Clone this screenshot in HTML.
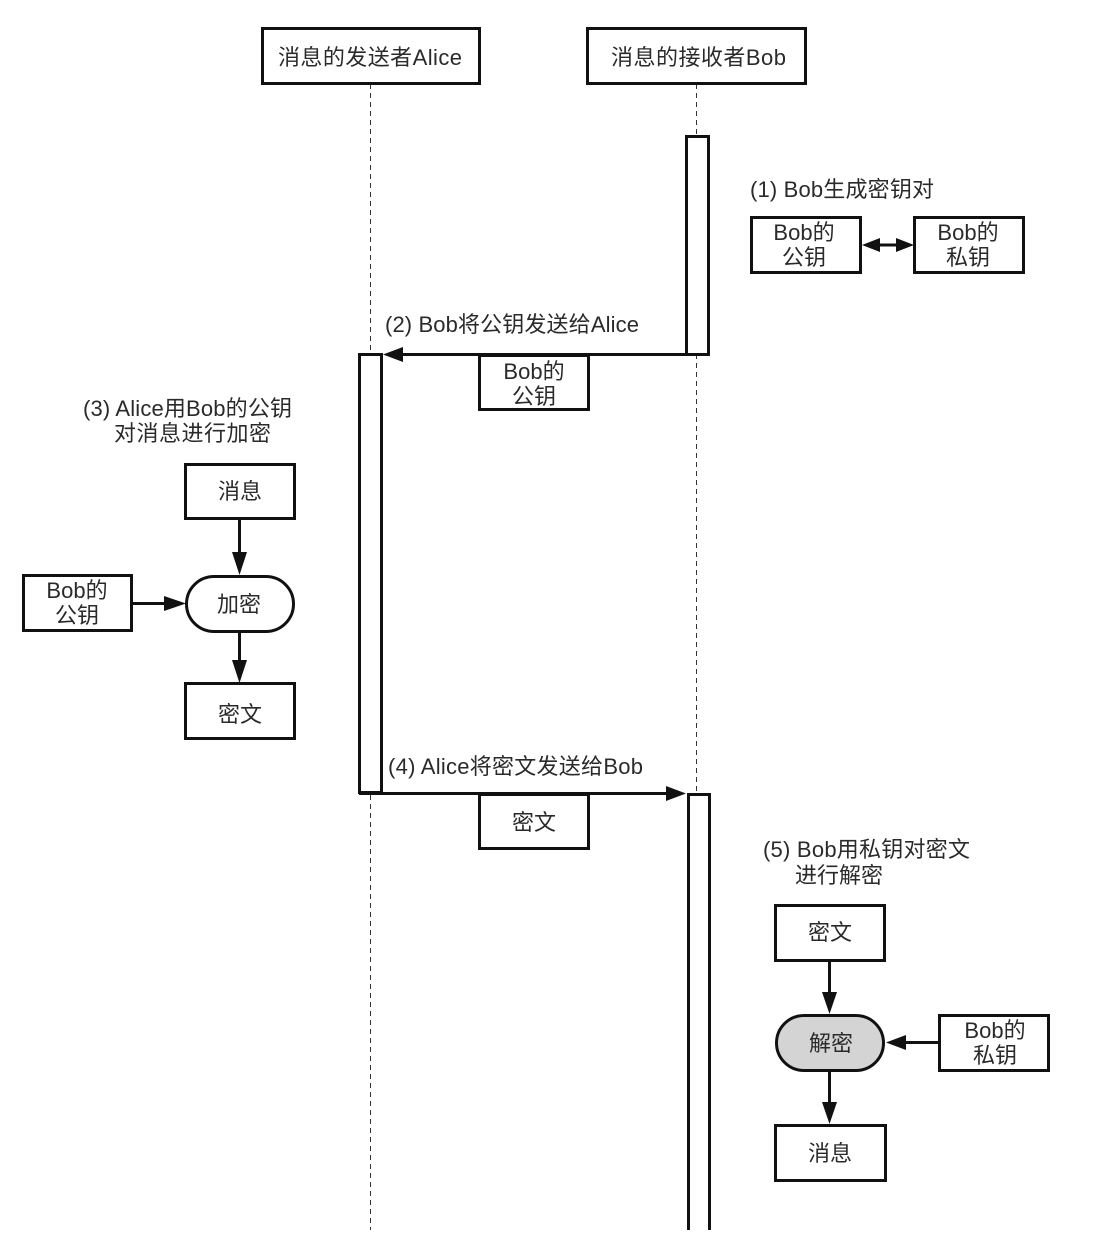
<!DOCTYPE html>
<html><head><meta charset="utf-8"><style>
html,body{margin:0;padding:0;background:#fff;width:1118px;height:1258px;overflow:hidden}
svg{display:block}
text{font-family:"Liberation Sans","Noto Sans CJK SC",sans-serif;font-size:22px;fill:#2a2a2a}
.c{text-anchor:middle}
.b{fill:#fff;stroke:#111;stroke-width:3}
.l{stroke:#111;stroke-width:3;fill:none}
.d{stroke:#333;stroke-width:1;stroke-dasharray:5 4;fill:none}
.a{fill:#111;stroke:none}
</style></head><body>
<svg width="1118" height="1258" viewBox="0 0 1118 1258" xmlns="http://www.w3.org/2000/svg">
<rect width="1118" height="1258" fill="#fff"/>
<path class="d" d="M370.500 84V1230"/>
<path class="d" d="M696.500 84V795"/>
<rect class="b" x="262.500" y="28.500" width="217" height="55"/>
<text x="278" y="65" textLength="184">消息的发送者Alice</text>
<rect class="b" x="587.500" y="28.500" width="218" height="55"/>
<text x="611" y="65" textLength="175">消息的接收者Bob</text>

<rect class="b" x="686.500" y="136.500" width="22" height="218"/>
<text x="750" y="197" textLength="184">(1) Bob生成密钥对</text>
<rect class="b" x="751.500" y="217.500" width="109" height="55"/>
<text class="c" x="804" y="240">Bob的</text><text class="c" x="804" y="265">公钥</text>
<rect class="b" x="914.500" y="217.500" width="109" height="55"/>
<text class="c" x="968" y="240">Bob的</text><text class="c" x="968" y="265">私钥</text>
<path class="l" d="M875 245H900"/>
<path class="a" d="M862 245L880 238V252ZM914 245L896 238V252Z"/>

<text x="385" y="332" textLength="254">(2) Bob将公钥发送给Alice</text>
<rect class="b" x="479.500" y="355.500" width="109" height="54"/>
<text class="c" x="534" y="379">Bob的</text><text class="c" x="534" y="404">公钥</text>
<rect class="b" x="359.500" y="354.500" width="22" height="438"/>
<path class="l" d="M395 354.500H688"/>
<path class="a" d="M383 354.500L403 347V362Z"/>

<text x="83" y="416" textLength="209">(3) Alice用Bob的公钥</text>
<text x="114" y="441" textLength="157">对消息进行加密</text>
<rect class="b" x="185.500" y="464.500" width="109" height="54"/>
<text class="c" x="240" y="499">消息</text>
<path class="l" d="M239.500 519V560"/>
<path class="a" d="M239.500 575L232 552H247Z"/>
<rect class="b" x="23.500" y="575.500" width="108" height="55"/>
<text class="c" x="77" y="598">Bob的</text><text class="c" x="77" y="623">公钥</text>
<path class="l" d="M132 603.500H172"/>
<path class="a" d="M186 603.500L164 596V611Z"/>
<rect class="b" x="186.500" y="576.500" width="107" height="55" rx="27.500" ry="27.500"/>
<text class="c" x="239" y="612">加密</text>
<path class="l" d="M239.500 632V670"/>
<path class="a" d="M239.500 683L232 660H247Z"/>
<rect class="b" x="185.500" y="683.500" width="109" height="55"/>
<text class="c" x="240" y="722">密文</text>

<text x="388" y="774" textLength="255">(4) Alice将密文发送给Bob</text>
<path class="l" d="M359 793.500H675"/>
<path class="a" d="M686 793.500L666 786V801Z"/>
<rect class="b" x="479.500" y="794.500" width="109" height="54"/>
<text class="c" x="534" y="830">密文</text>
<path class="l" d="M688.500 1230V794.500H709.500V1230"/>

<text x="763" y="857" textLength="207">(5) Bob用私钥对密文</text>
<text x="795" y="883">进行解密</text>
<rect class="b" x="775.500" y="905.500" width="109" height="55"/>
<text class="c" x="830" y="940">密文</text>
<path class="l" d="M829.500 961V1000"/>
<path class="a" d="M829.500 1014L822 992H837Z"/>
<rect x="776.500" y="1015.500" width="107" height="55" rx="27.500" ry="27.500" fill="#d4d4d4" stroke="#111" stroke-width="3"/>
<text class="c" x="831" y="1051">解密</text>
<rect class="b" x="939.500" y="1015.500" width="109" height="55"/>
<text class="c" x="995" y="1038">Bob的</text><text class="c" x="995" y="1063">私钥</text>
<path class="l" d="M900 1042.500H939"/>
<path class="a" d="M886 1042.500L906 1035V1050Z"/>
<path class="l" d="M829.500 1071V1112"/>
<path class="a" d="M829.500 1124L822 1102H837Z"/>
<rect class="b" x="775.500" y="1125.500" width="110" height="55"/>
<text class="c" x="830" y="1161">消息</text>
</svg>
</body></html>
